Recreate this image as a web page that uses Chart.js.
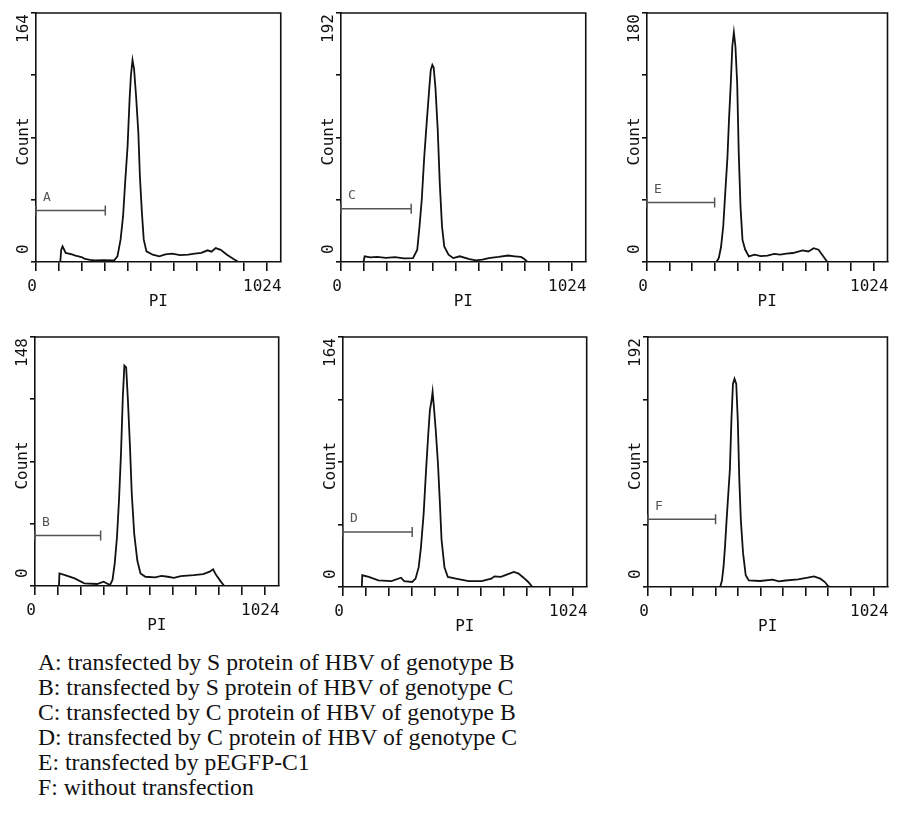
<!DOCTYPE html>
<html>
<head>
<meta charset="utf-8">
<script src="https://cdn.jsdelivr.net/npm/chart.js@4.4.1/dist/chart.umd.min.js"></script>
<style>
    html, body { margin: 0; padding: 0; background: #fff; width: 898px; height: 824px; overflow: hidden; }
    canvas { position: absolute; }
    #caption {
        position: absolute; left: 38px; top: 650px;
        font-family: "Liberation Serif", "Times New Roman", serif;
        font-size: 23.7px; line-height: 25px; color: #111; white-space: nowrap;
    }
</style>
</head>
<body>
<div id="caption">
    <div>A: transfected by S protein of HBV of genotype B</div>
    <div>B: transfected by S protein of HBV of genotype C</div>
    <div>C: transfected by C protein of HBV of genotype B</div>
    <div>D: transfected by C protein of HBV of genotype C</div>
    <div>E: transfected by pEGFP-C1</div>
    <div>F: without transfection</div>
</div>
<script>
// panel order: top row A, C, E; bottom row B, D, F
const panelLetters = ['A', 'C', 'E', 'B', 'D', 'F'];
const countMax = [164, 192, 180, 148, 164, 192];
const gateEnd = [308, 312, 306, 293, 309, 307];
const gateLevel = [34, 41, 43, 30, 36, 52];
const xTickValues = [0, 102.4, 204.8, 307.2, 409.6, 512, 614.4, 716.8, 819.2, 921.6, 1024];
const xAxisMax = 1088;

// PI channel / count
const channelsA = [108, 112, 118, 132, 160, 175, 189, 205, 218, 240, 261, 300, 347, 362, 376, 387, 397, 407, 416, 422, 429, 436, 445, 455, 462, 471, 479, 491, 519, 548, 575, 605, 640, 677, 705, 735, 763, 780, 799, 821, 849, 878, 900];
const countsA = [0, 8, 10.3, 6, 5, 4.2, 3.7, 3.0, 2, 1.4, 1, 1.2, 1, 3.7, 14.7, 30, 54, 76, 107, 123, 133, 127, 109, 85, 56, 32, 14.7, 7, 4.8, 3.7, 5.0, 5.5, 4.5, 4.8, 5.5, 6, 7.7, 6.8, 9.2, 8, 4.8, 2, 0];

const channelsC = [100, 105, 130, 160, 200, 240, 280, 320, 339, 349, 359, 370, 382, 392, 399, 406, 412, 420, 430, 439, 449, 459, 478, 499, 528, 571, 600, 628, 657, 700, 743, 772, 800, 815, 829];
const countsC = [0, 4.4, 3.5, 4.0, 3.2, 3.8, 2.8, 3.0, 9.5, 27.5, 48, 81, 110, 133, 148, 152, 150, 134, 102, 61, 27.5, 12, 5.7, 3, 4.4, 2.3, 1.3, 1.8, 3, 3.9, 5, 4.4, 3.9, 2.3, 0];

const channelsE = [314, 325, 335, 345, 354, 364, 371, 379, 386, 393, 400, 408, 415, 423, 432, 444, 461, 487, 515, 545, 575, 603, 630, 660, 704, 730, 754, 776, 798, 816];
const countsE = [0, 2.9, 11, 26, 50, 76, 103, 129, 156, 166, 156, 129, 79, 40, 16, 9, 4, 5.3, 4.2, 4.6, 5.8, 5.3, 6.0, 6.5, 8.4, 7.6, 10, 8.9, 4, 0];

const channelsB = [107, 109, 134, 177, 220, 277, 306, 335, 346, 356, 366, 375, 384, 392, 399, 407, 415, 424, 432, 443, 457, 471, 493, 536, 565, 593, 620, 651, 708, 751, 780, 795, 809, 830, 845];
const countsB = [0, 7.5, 6.5, 4.5, 1.6, 1.2, 2.6, 0.6, 3.6, 13.5, 29, 51, 79, 112, 131, 130, 110, 83, 55, 31, 15, 7.5, 5.5, 5.1, 6.0, 5.5, 4.8, 5.9, 6.5, 7.1, 8.5, 9.9, 6.5, 2.6, 0];

const channelsD = [84, 86, 115, 158, 216, 259, 273, 309, 324, 338, 348, 360, 371, 381, 388, 396, 400, 406, 414, 424, 432, 440, 453, 468, 504, 561, 619, 662, 676, 705, 734, 763, 784, 806, 827, 846];
const countsD = [0, 7.7, 6.6, 4.4, 3.9, 6.1, 3.9, 3.3, 5.5, 13, 26, 48, 77, 101, 116, 123, 128, 118, 103, 81, 57, 31, 13, 6.6, 5.5, 3.9, 3.9, 5.5, 7, 6.6, 8.3, 9.9, 8.8, 6.1, 3.3, 0];

const channelsF = [328, 336, 343, 350, 357, 365, 372, 379, 386, 393, 401, 408, 415, 422, 432, 444, 458, 509, 566, 595, 624, 682, 725, 754, 783, 804, 818, 826];
const countsF = [0, 5, 15, 31, 51, 72, 90, 128, 156, 160, 156, 128, 82, 51, 26, 9, 5, 4.6, 5.6, 4.4, 5, 5.9, 7.2, 8.2, 6.4, 3.8, 0.8, 0];

const panelChannels = [channelsA, channelsC, channelsE, channelsB, channelsD, channelsF];
const panelCounts = [countsA, countsC, countsE, countsB, countsD, countsF];

// plot box (left, top, right, bottom) of each panel on the page
const panelBoxes = [
    [36, 13, 289, 262], [341, 13, 594, 262], [647, 13, 896, 262],
    [35, 337, 287, 586], [343, 337, 595, 587], [648, 337, 896, 587]
];

const INK = '#111';
const GATE = '#555';
const MONO = '"DejaVu Sans Mono", "Liberation Mono", monospace';

const PAD_LEFT = 31, PAD_TOP = 13, PAD_RIGHT = 3;
const Y_AXIS_W = 5, X_AXIS_H = 48;

const framePlugin = {
    id: 'frame',
    afterDraw(chart, args, opts) {
        const { ctx, chartArea: a, scales } = chart;
        ctx.save();
        ctx.strokeStyle = INK;
        ctx.lineWidth = 1.6;
        ctx.beginPath();
        ctx.moveTo(a.left, a.top);
        ctx.lineTo(a.right, a.top);
        ctx.lineTo(a.right, a.bottom);
        ctx.stroke();

        // rotated y labels
        ctx.fillStyle = INK;
        ctx.font = '16px ' + MONO;
        ctx.textBaseline = 'middle';
        const lx = a.left - 12;
        const drawUp = (text, y, align) => {
            ctx.save();
            ctx.translate(lx, y);
            ctx.rotate(-Math.PI / 2);
            ctx.textAlign = align;
            ctx.fillText(text, 0, 0);
            ctx.restore();
        };
        drawUp(String(opts.max), a.top + 1, 'right');
        drawUp('0', a.bottom - 8, 'left');
        drawUp('Count', (a.top + a.bottom) / 2 + 4, 'center');

        // gate letter
        ctx.fillStyle = GATE;
        ctx.font = '13px ' + MONO;
        ctx.textAlign = 'center';
        ctx.fillText(opts.letter, a.left + 11, scales.y.getPixelForValue(opts.level) - 13);
        ctx.restore();
    }
};

function buildPanel(i) {
    const [l, t, r, b] = panelBoxes[i];
    const canvas = document.createElement('canvas');
    const w = (r - l) + PAD_LEFT + Y_AXIS_W + PAD_RIGHT;
    const h = (b - t) + PAD_TOP + X_AXIS_H;
    canvas.width = w;
    canvas.height = h;
    canvas.style.width = w + 'px';
    canvas.style.height = h + 'px';
    canvas.style.left = (l - PAD_LEFT - Y_AXIS_W) + 'px';
    canvas.style.top = (t - PAD_TOP) + 'px';
    document.body.appendChild(canvas);

    const hist = panelChannels[i].map((c, k) => ({ x: c, y: panelCounts[i][k] }));
    const gate = [{ x: 0, y: gateLevel[i] }, { x: gateEnd[i], y: gateLevel[i] }];
    const yMax = countMax[i];

    new Chart(canvas.getContext('2d'), {
        type: 'line',
        data: {
            datasets: [{
                data: hist,
                borderColor: INK,
                borderWidth: 1.8,
                pointRadius: 0,
                tension: 0,
                fill: false
            }, {
                data: gate,
                borderColor: GATE,
                borderWidth: 1.5,
                pointStyle: 'line',
                rotation: 90,
                pointRadius: 5,
                pointBorderColor: GATE,
                pointBorderWidth: 1.5,
                fill: false,
                clip: 6
            }]
        },
        options: {
            responsive: false,
            animation: false,
            devicePixelRatio: 1,
            layout: { padding: { left: PAD_LEFT, top: PAD_TOP, right: PAD_RIGHT, bottom: 0 } },
            plugins: {
                legend: { display: false },
                tooltip: { enabled: false },
                frame: { max: yMax, letter: panelLetters[i], level: gateLevel[i] }
            },
            scales: {
                x: {
                    type: 'linear',
                    min: 0,
                    max: xAxisMax,
                    afterBuildTicks: s => { s.ticks = xTickValues.map(v => ({ value: v })); },
                    afterFit: s => { s.height = X_AXIS_H; },
                    ticks: {
                        autoSkip: false,
                        maxRotation: 0,
                        padding: 6,
                        labelOffset: -4,
                        color: INK,
                        font: { family: MONO, size: 16 },
                        callback: v => (v === 0 ? '0' : v === 1024 ? '1024' : '')
                    },
                    grid: {
                        drawOnChartArea: false,
                        drawTicks: true,
                        tickLength: 9,
                        color: INK,
                        lineWidth: 1.6
                    },
                    border: { display: true, color: INK, width: 1.6 },
                    title: {
                        display: true,
                        text: 'PI',
                        color: INK,
                        font: { family: MONO, size: 16, lineHeight: 1 },
                        padding: { top: 0, bottom: 0 }
                    }
                },
                y: {
                    type: 'linear',
                    min: 0,
                    max: yMax,
                    afterBuildTicks: s => { s.ticks = [0, 0.25, 0.5, 0.75, 1].map(f => ({ value: f * yMax })); },
                    afterFit: s => { s.width = Y_AXIS_W; },
                    ticks: { display: false },
                    grid: {
                        drawOnChartArea: false,
                        drawTicks: true,
                        tickLength: Y_AXIS_W,
                        color: INK,
                        lineWidth: 1.6
                    },
                    border: { display: true, color: INK, width: 1.6 }
                }
            }
        },
        plugins: [framePlugin]
    });
}

panelLetters.forEach((_, i) => buildPanel(i));
</script>
</body>
</html>
